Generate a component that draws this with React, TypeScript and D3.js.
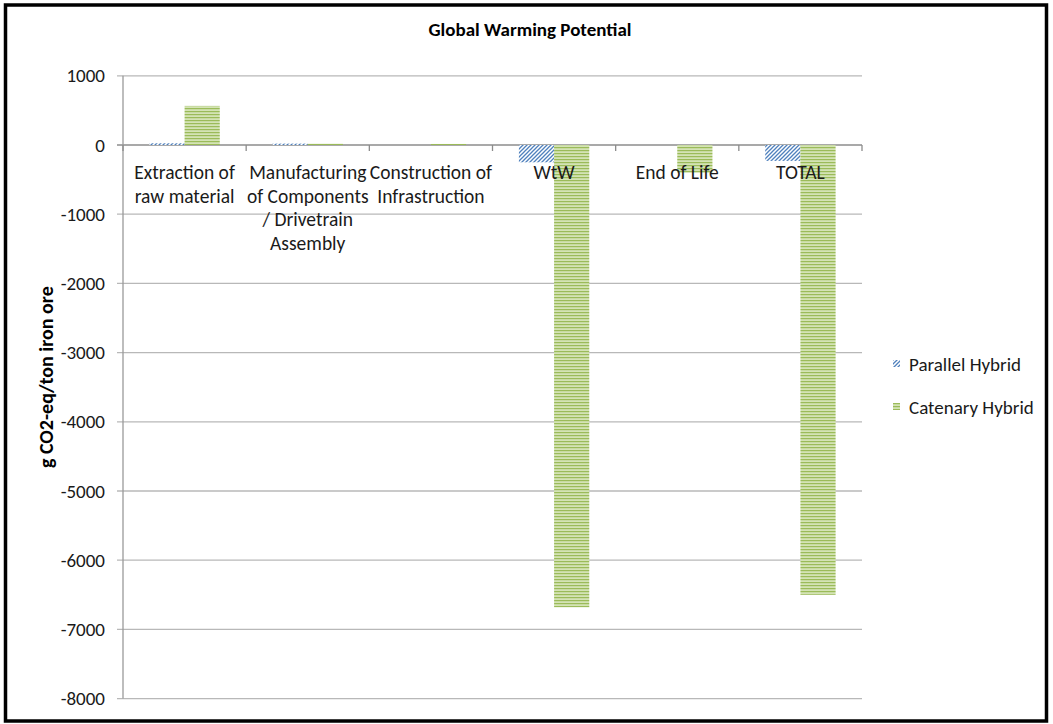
import React from "react";
import * as d3 from "d3";

// Life-cycle stages along the x axis (line breaks mark the wrapped label lines)
const categories = [
  "Extraction of\nraw material",
  "Manufacturing\nof Components\n/ Drivetrain\nAssembly",
  "Construction of\nInfrastruction",
  "WtW",
  "End of Life",
  "TOTAL",
];
const seriesNames = ["Parallel Hybrid", "Catenary Hybrid"];
const parallelHybrid = [25, 20, 0, -250, 0, -230];
const catenaryHybrid = [565, 18, 15, -6680, -400, -6500];
const yTicks = [1000, 0, -1000, -2000, -3000, -4000, -5000, -6000, -7000, -8000];

const W = 1053;
const H = 724;
const FONT = "Carlito, Lato, 'Open Sans', sans-serif";

export default function App() {
  const plot = { left: 123, right: 862, top: 75.8, bottom: 698.6 };
  const y = d3.scaleLinear().domain([-8000, 1000]).range([plot.bottom, plot.top]);
  const x = d3.scaleBand<number>().domain(d3.range(categories.length)).range([plot.left, plot.right]);
  const barW = x.bandwidth() / 3.5;
  const inner = d3
    .scaleBand<number>()
    .domain([0, 1])
    .range([x.bandwidth() / 2 - barW, x.bandwidth() / 2 + barW]);
  const series = [parallelHybrid, catenaryHybrid];
  const fills = ["url(#hatchBlue)", "url(#hatchGreen)"];
  const y0 = y(0);

  return (
    <svg
      width={W}
      height={H}
      style={{ position: "absolute", left: 0, top: 0, background: "#fff" }}
      fontFamily={FONT}
    >
      <defs>
        <pattern id="hatchBlue" width={4} height={4} patternUnits="userSpaceOnUse">
          <rect width={4} height={4} fill="#ffffff" />
          <path d="M-1,1 l2,-2 M0,4 l4,-4 M3,5 l2,-2" stroke="#4f81bd" strokeWidth={1.3} />
        </pattern>
        <pattern id="hatchGreen" width={4} height={3} patternUnits="userSpaceOnUse">
          <rect width={4} height={3} fill="#d4e3b5" />
          <rect width={4} height={1.2} fill="#9bbb59" />
        </pattern>
      </defs>

      <rect x={0} y={0} width={W} height={H} fill="#fff" />

      {/* gridlines */}
      {yTicks.map((t) => (
        <line
          key={t}
          x1={plot.left - 6}
          x2={plot.right}
          y1={y(t)}
          y2={y(t)}
          stroke={t === 0 ? "#8c8c8c" : "#b8b8b8"}
          strokeWidth={1.3}
        />
      ))}
      {/* y axis */}
      <line x1={plot.left} x2={plot.left} y1={plot.top} y2={plot.bottom} stroke="#9a9a9a" strokeWidth={1.3} />
      {yTicks.map((t) => (
        <text key={t} x={105} y={y(t)} dy="0.35em" textAnchor="end" fontSize={19} fill="#1a1a1a">
          {t}
        </text>
      ))}

      {/* category ticks on the zero line */}
      {d3.range(categories.length + 1).map((i) => {
        const xx = plot.left + i * x.step();
        return <line key={i} x1={xx} x2={xx} y1={y0} y2={y0 + 6} stroke="#8c8c8c" strokeWidth={1.3} />;
      })}

      {/* bars */}
      {series.map((vals, s) =>
        vals.map((v, i) =>
          v === 0 ? null : (
            <rect
              key={`${s}-${i}`}
              x={(x(i) ?? 0) + (inner(s) ?? 0)}
              width={barW}
              y={Math.min(y(v), y0)}
              height={Math.abs(y(v) - y0)}
              fill={fills[s]}
            />
          )
        )
      )}

      {/* category labels, drawn over the bars */}
      {categories.map((c, i) => (
        <text key={c} textAnchor="middle" fontSize={19.5} fill="#1a1a1a">
          {c.split("\n").map((line, j) => (
            <tspan key={j} x={(x(i) ?? 0) + x.bandwidth() / 2} y={179 + j * 23.5}>
              {line}
            </tspan>
          ))}
        </text>
      ))}

      {/* title */}
      <text x={530} y={36} textAnchor="middle" fontSize={19} fontWeight="bold" fill="#000">
        Global Warming Potential
      </text>

      {/* y axis title */}
      <text
        transform={`translate(53,${(plot.top + plot.bottom) / 2 - 10}) rotate(-90)`}
        textAnchor="middle"
        fontSize={20}
        fontWeight="bold"
        fill="#000"
      >
        g CO2-eq/ton iron ore
      </text>

      {/* legend */}
      {seriesNames.map((n, i) => (
        <g key={n} transform={`translate(893,${360 + i * 43})`}>
          <rect x={0} y={0} width={7} height={7} fill={fills[i]} />
          <text x={16} y={4} dy="0.35em" fontSize={19} fill="#1a1a1a">
            {n}
          </text>
        </g>
      ))}

      {/* chart frame */}
      <rect x={5.5} y={5} width={1041} height={716} fill="none" stroke="#000" strokeWidth={3.5} />
    </svg>
  );
}
